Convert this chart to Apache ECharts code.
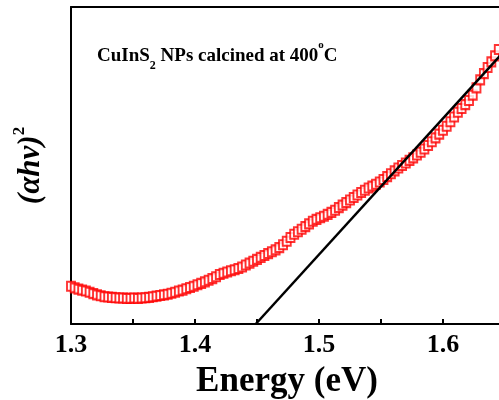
<!DOCTYPE html>
<html>
<head>
<meta charset="utf-8">
<script src="https://cdn.jsdelivr.net/npm/echarts@6/dist/echarts.min.js"></script>
<style>
  html, body { margin: 0; padding: 0; background: #fff; }
  #main { width: 499px; height: 400px; }
</style>
</head>
<body>
<div id="main"></div>
<script>
// photon energy (eV) and (ahv)^2 in arbitrary units
var energy = [
  1.300, 1.303, 1.306, 1.309, 1.312, 1.315, 1.318, 1.321, 1.324, 1.327,
  1.330, 1.333, 1.336, 1.339, 1.342, 1.345, 1.348, 1.351, 1.354, 1.357,
  1.360, 1.363, 1.366, 1.369, 1.372, 1.375, 1.378, 1.381, 1.384, 1.387,
  1.390, 1.393, 1.396, 1.399, 1.402, 1.405, 1.408, 1.411, 1.414, 1.417,
  1.420, 1.423, 1.426, 1.429, 1.432, 1.435, 1.438, 1.441, 1.444, 1.447,
  1.450, 1.453, 1.456, 1.459, 1.462, 1.465, 1.468, 1.471, 1.474, 1.477,
  1.480, 1.483, 1.486, 1.489, 1.492, 1.495, 1.498, 1.501, 1.504, 1.507,
  1.510, 1.513, 1.516, 1.519, 1.522, 1.525, 1.528, 1.531, 1.534, 1.537,
  1.540, 1.543, 1.546, 1.549, 1.552, 1.555, 1.558, 1.561, 1.564, 1.567,
  1.570, 1.573, 1.576, 1.579, 1.582, 1.585, 1.588, 1.591, 1.594, 1.597,
  1.600, 1.603, 1.606, 1.609, 1.612, 1.615, 1.618, 1.621, 1.624, 1.627,
  1.630, 1.633, 1.636, 1.639, 1.642, 1.645
];
var absorb = [
  11.9, 11.4, 11.0, 10.7, 10.4, 10.0, 9.6, 9.2, 8.9, 8.6,
  8.5, 8.4, 8.3, 8.2, 8.2, 8.1, 8.1, 8.2, 8.1, 8.2,
  8.3, 8.4, 8.6, 8.8, 9.0, 9.2, 9.4, 9.7, 10.0, 10.4,
  10.7, 11.1, 11.5, 11.9, 12.4, 12.8, 13.3, 13.8, 14.3, 14.9,
  15.6, 16.0, 16.4, 16.8, 17.1, 17.5, 18.0, 18.6, 19.2, 19.8,
  20.4, 21.0, 21.6, 22.2, 22.8, 23.4, 24.1, 25.0, 26.1, 27.3,
  28.3, 29.1, 29.9, 30.7, 31.6, 32.4, 33.0, 33.5, 34.0, 34.6,
  35.2, 35.9, 36.7, 37.5, 38.3, 39.1, 39.9, 40.7, 41.5, 42.2,
  42.9, 43.5, 44.1, 44.8, 45.6, 46.5, 47.4, 48.3, 49.2, 50.0,
  50.8, 51.6, 52.4, 53.3, 54.2, 55.2, 56.3, 57.5, 58.7, 59.9,
  61.1, 62.4, 63.8, 65.3, 66.8, 68.0, 69.2, 70.5, 72.2, 74.5,
  77.0, 79.0, 80.9, 82.7, 84.6, 86.6
];
// linear fit (Tauc extrapolation) end points
var fitX = [1.449, 1.66];
var fitY = [0, 90.6];

var serif = "'Liberation Serif', 'Times New Roman', serif";

var pts = energy.map(function (e, i) { return [e, absorb[i]]; });
var fit = fitX.map(function (e, i) { return [e, fitY[i]]; });

var myChart = echarts.init(document.getElementById('main'));
myChart.setOption({
  animation: false,
  title: {
    left: 97,
    top: 40,
    padding: 0,
    text: 'CuInS{sub|2} NPs calcined at 400{sup|o}C',
    textStyle: {
      fontFamily: serif,
      fontWeight: 'bold',
      fontSize: 19,
      color: '#000',
      lineHeight: 32,
      rich: {
        sub: { fontFamily: serif, fontWeight: 'bold', fontSize: 12, lineHeight: 12, verticalAlign: 'bottom', color: '#000' },
        sup: { fontFamily: serif, fontWeight: 'bold', fontSize: 11, lineHeight: 12, verticalAlign: 'top', color: '#000' }
      }
    }
  },
  grid: { left: 71, right: -4, top: 7, bottom: 76, outerBoundsMode: 'none', containLabel: false },
  xAxis: [
    {
      type: 'value',
      min: 1.3,
      max: 1.6484,
      interval: 0.05,
      name: 'Energy (eV)',
      nameLocation: 'middle',
      nameGap: 40,
      nameTextStyle: { fontFamily: serif, fontWeight: 'bold', fontSize: 35, color: '#000' },
      axisLine: { lineStyle: { color: '#000', width: 2 } },
      axisTick: { inside: true, length: 5, lineStyle: { color: '#000', width: 2 } },
      axisLabel: {
        margin: 8,
        showMaxLabel: false,
        fontFamily: serif,
        fontWeight: 'bold',
        fontSize: 26,
        color: '#000',
        formatter: function (v) {
          return Math.round(v * 100) % 10 === 0 ? v.toFixed(1) : '';
        }
      },
      splitLine: { show: false }
    },
    {
      type: 'value',
      position: 'top',
      min: 1.3,
      max: 1.6484,
      axisLine: { show: true, lineStyle: { color: '#000', width: 2 } },
      axisTick: { show: false },
      axisLabel: { show: false },
      splitLine: { show: false }
    }
  ],
  yAxis: {
    type: 'value',
    min: 0,
    max: 100,
    name: '{a|(αhν)}{s|2}',
    nameLocation: 'middle',
    nameRotate: 90,
    nameGap: 20,
    nameTextStyle: {
      lineHeight: 40,
      rich: {
        a: { fontFamily: serif, fontWeight: 'bold', fontStyle: 'italic', fontSize: 31, lineHeight: 40, color: '#000' },
        s: { fontFamily: serif, fontWeight: 'bold', fontSize: 17, lineHeight: 16, verticalAlign: 'top', color: '#000' }
      }
    },
    axisLine: { show: true, lineStyle: { color: '#000', width: 2 } },
    axisTick: { show: false },
    axisLabel: { show: false },
    splitLine: { show: false }
  },
  series: [
    {
      type: 'scatter',
      data: pts,
      symbol: 'emptyRect',
      symbolSize: [8, 9],
      itemStyle: { color: '#ff0000', borderColor: '#ff0000', borderWidth: 1 },
      z: 2
    },
    {
      type: 'line',
      data: fit,
      symbol: 'none',
      clip: true,
      lineStyle: { color: '#000', width: 2.5 },
      z: 3
    }
  ]
});
</script>
</body>
</html>
